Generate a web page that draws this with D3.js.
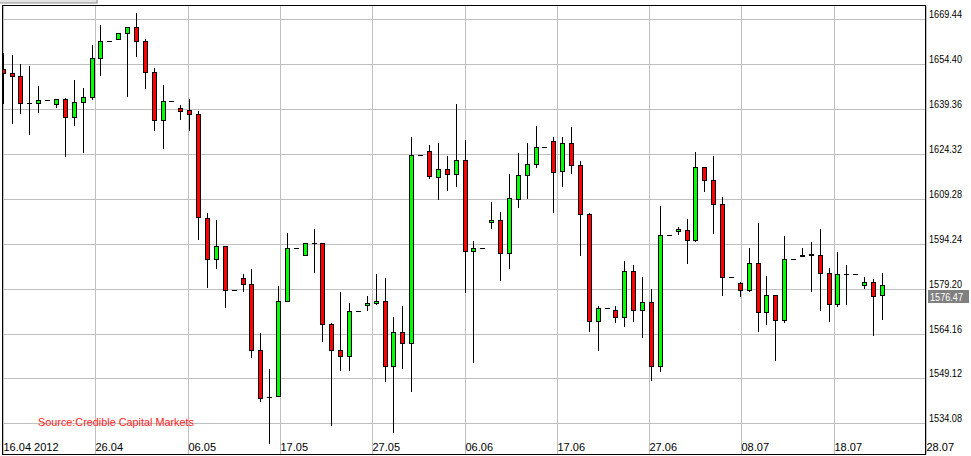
<!DOCTYPE html>
<html><head><meta charset="utf-8">
<script src="https://cdn.jsdelivr.net/npm/d3@7"></script>
<style>html,body{margin:0;padding:0;background:#fff;overflow:hidden}svg{display:block}</style>
</head><body>
<svg id="chart" width="971" height="456"></svg>
<script>
// ---- data (daily candles from 16.04.2012, one per calendar day) ----
const startDate = "16.04.2012";
const open  = [1652.69,1651.35,1650.34,1641.30,1641.30,1642.30,1640.96,1642.64,1636.61,1641.63,
               1643.31,1656.37,1662.07,1662.74,1664.75,1666.76,1662.07,1651.68,1635.60,1641.97,
               1639.62,1638.95,1637.61,1602.77,1589.04,1593.39,1578.65,1582.67,1580.66,1558.55,
               1543.01,1543.34,1575.17,1592.72,1590.38,1594.40,1594.40,1567.36,1558.55,1556.54,
               1571.82,1573.63,1574.30,1574.97,1553.19,1564.58,1560.90,1623.88,1625.22,1616.51,
               1619.19,1617.51,1622.20,1591.72,1592.72,1601.43,1602.10,1591.05,1609.14,1617.18,
               1620.86,1626.56,1628.57,1618.52,1627.90,1620.53,1604.11,1568.27,1572.62,1571.95,
               1569.61,1585.02,1571.95,1574.63,1553.19,1597.08,1598.52,1598.75,1595.40,1619.86,
               1615.50,1607.46,1583.01,1581.00,1578.65,1587.70,1571.28,1576.98,1568.60,1589.04,
               1590.20,1590.60,1590.38,1584.35,1573.96,1584.01,1584.01,1580.33,1581.33,1576.98];
const high  = [1658.05,1657.48,1654.46,1653.79,1647.09,1642.30,1642.64,1642.97,1649.10,1646.32,
               1660.83,1667.53,1662.07,1664.75,1666.76,1671.55,1662.74,1653.12,1647.33,1641.97,
               1640.63,1642.64,1638.62,1604.55,1602.20,1593.39,1578.65,1584.11,1585.79,1564.25,
               1552.19,1580.09,1597.85,1592.72,1594.40,1599.19,1594.40,1567.70,1577.98,1574.30,
               1571.82,1576.85,1584.01,1582.87,1569.61,1573.39,1630.01,1623.88,1627.23,1627.90,
               1623.54,1640.96,1628.90,1595.07,1592.72,1608.13,1604.78,1617.51,1624.55,1627.90,
               1633.59,1626.56,1629.91,1629.91,1633.26,1621.87,1604.45,1573.29,1572.62,1573.29,
               1588.37,1587.03,1583.01,1578.99,1606.79,1597.08,1599.76,1602.44,1624.88,1619.86,
               1623.54,1609.81,1583.01,1581.33,1592.72,1601.10,1583.54,1576.98,1596.74,1589.04,
               1592.72,1594.73,1599.09,1586.02,1591.38,1587.03,1584.01,1583.01,1582.34,1584.35];
const low   = [1640.96,1634.46,1637.82,1630.78,1638.15,1642.30,1639.62,1623.21,1633.79,1624.75,
               1642.30,1650.34,1662.07,1662.40,1643.31,1656.71,1645.99,1632.12,1626.09,1641.97,
               1635.60,1631.92,1595.40,1579.32,1585.69,1572.62,1578.65,1577.98,1555.87,1541.33,
               1527.06,1543.34,1575.17,1592.72,1590.38,1584.55,1561.43,1533.29,1551.52,1551.52,
               1571.82,1571.62,1573.63,1547.83,1530.95,1552.19,1544.68,1623.88,1615.84,1608.80,
               1611.82,1613.16,1577.85,1554.40,1592.72,1599.09,1581.67,1585.89,1606.12,1609.14,
               1619.52,1626.56,1604.45,1613.16,1617.51,1590.04,1564.58,1558.22,1572.62,1567.60,
               1566.26,1567.93,1562.57,1548.17,1551.18,1597.08,1597.08,1587.36,1594.73,1611.48,
               1597.41,1576.64,1583.01,1576.31,1577.98,1564.58,1566.93,1554.87,1567.60,1589.04,
               1589.71,1577.98,1571.62,1567.93,1572.96,1573.63,1584.01,1578.99,1563.24,1568.60];
const close = [1651.35,1650.34,1641.30,1641.30,1642.30,1642.30,1642.64,1636.61,1641.63,1643.31,
               1656.37,1662.07,1662.07,1664.75,1666.76,1662.07,1651.68,1635.60,1641.97,1641.97,
               1638.62,1637.61,1603.11,1589.04,1593.39,1578.65,1578.65,1580.66,1558.55,1542.67,
               1543.01,1575.17,1592.72,1592.72,1594.40,1594.40,1567.36,1558.55,1556.54,1571.82,
               1571.82,1574.30,1574.97,1553.19,1564.58,1560.90,1623.88,1623.88,1616.84,1619.19,
               1617.51,1622.20,1591.72,1592.72,1592.72,1602.10,1591.05,1609.47,1617.18,1620.86,
               1626.56,1626.56,1618.18,1627.90,1620.53,1604.11,1568.27,1572.62,1572.62,1569.61,
               1585.02,1571.95,1574.63,1553.19,1597.08,1597.08,1599.09,1595.40,1619.86,1615.50,
               1607.46,1583.01,1583.01,1578.65,1587.70,1571.28,1576.98,1568.60,1589.04,1589.04,
               1590.50,1590.90,1584.35,1573.96,1584.01,1584.01,1584.01,1581.33,1576.64,1580.33];
const yTicks = [1669.44,1654.40,1639.36,1624.32,1609.28,1594.24,1579.20,1564.16,1549.12,1534.08];
const xTickDays = [0.03,10.42,20.82,31.21,41.60,52.00,62.39,72.78,83.17,93.57,103.96];
const xTickLabels = ["16.04 2012","26.04","06.05","17.05","27.05","06.06","17.06","27.06","08.07","18.07","28.07"];
const lastPrice = 1576.47;
const sourceText = "Source:Credible Capital Markets";

// ---- layout ----
const svg = d3.select("#chart");
const L = 2.5, T = 5.5, R = 925.5, B = 454.5;
const x = d3.scaleLinear().domain([0, 99]).range([2.73, 881.9]);
const y = d3.scaleLinear().domain([1534.08, 1669.44]).range([423.3, 19.3]);
const px = v => Math.round(v) + 0.5;

svg.append("defs").append("clipPath").attr("id","clip")
  .append("rect").attr("x", L).attr("y", T).attr("width", R - L).attr("height", B - T);

// header box remnant (cut off at the top edge in the reference)
svg.append("rect").attr("x",-1).attr("y",-12).attr("width",98).attr("height",15)
  .attr("fill","#e4e4e4").attr("stroke","#8c8c8c");

// grid
const grid = svg.append("g").attr("stroke","#c0c0c0").attr("stroke-width",1);
grid.selectAll(".hg").data(yTicks).join("line")
  .attr("x1", L).attr("x2", R).attr("y1", d => px(y(d))).attr("y2", d => px(y(d)));
grid.selectAll(".vg").data(xTickDays).join("line")
  .attr("y1", T).attr("y2", B).attr("x1", d => px(x(d))).attr("x2", d => px(x(d)));

// source label
svg.append("text").attr("x", 38).attr("y", 426)
  .attr("font-family","Liberation Sans, Arial, sans-serif").attr("font-size",11.5)
  .attr("fill","#ff1a1a").attr("textLength",156).attr("lengthAdjust","spacingAndGlyphs")
  .text(sourceText);

// candles
const data = open.map((o,i) => ({i, o, h: high[i], l: low[i], c: close[i]}));
const cg = svg.append("g").attr("clip-path","url(#clip)");
const g = cg.selectAll("g.c").data(data).join("g");
g.each(function(d){
  const s = d3.select(this);
  const cx = px(x(d.i));
  const yH = y(d.h), yL = y(d.l), yO = y(d.o), yC = y(d.c);
  if (Math.abs(yL - yH) >= 1) {
    s.append("line").attr("x1",cx).attr("x2",cx)
      .attr("y1",Math.round(yH)).attr("y2",Math.round(yL))
      .attr("stroke","#000").attr("stroke-width",1);
  }
  const top = Math.round(Math.min(yO,yC)), bot = Math.round(Math.max(yO,yC));
  if (bot - top < 1) {
    s.append("line").attr("x1",cx-2.5).attr("x2",cx+2.5)
      .attr("y1",top+0.5).attr("y2",top+0.5).attr("stroke","#000").attr("stroke-width",1);
  } else {
    s.append("rect").attr("x",cx-2).attr("width",4)
      .attr("y",top+0.5).attr("height",bot-top)
      .attr("fill", d.c >= d.o ? "#00ff00" : "#ff0000")
      .attr("stroke","#000").attr("stroke-width",1);
  }
});

// frame
svg.append("rect").attr("x",L).attr("y",T).attr("width",R-L).attr("height",B-T)
  .attr("fill","none").attr("stroke","#000").attr("stroke-width",1);

// right axis labels
svg.selectAll(".yl").data(yTicks).join("text")
  .attr("x", 929).attr("y", d => Math.round(y(d)) - 1)
  .attr("font-family","Liberation Sans Narrow, Arial Narrow, Liberation Sans, sans-serif")
  .attr("font-size",10.5).attr("fill","#000")
  .attr("textLength",33).attr("lengthAdjust","spacingAndGlyphs")
  .text(d => d.toFixed(2));

// last price marker
const lp = y(lastPrice);
svg.append("rect").attr("x",928).attr("y",Math.round(lp)-7).attr("width",41).attr("height",13)
  .attr("fill","#808080");
svg.append("text").attr("x",930).attr("y",Math.round(lp)+4)
  .attr("font-family","Liberation Sans Narrow, Arial Narrow, Liberation Sans, sans-serif")
  .attr("font-size",10.5).attr("fill","#fff")
  .attr("textLength",33).attr("lengthAdjust","spacingAndGlyphs")
  .text(lastPrice.toFixed(2));

// bottom axis labels
svg.selectAll(".xl").data(xTickDays).join("text")
  .attr("x", d => Math.round(x(d)) + 0.5).attr("y", 451)
  .attr("font-family","Liberation Sans, Arial, sans-serif")
  .attr("font-size",11).attr("fill","#000")
  .text((d,i) => xTickLabels[i]);
</script>
</body></html>
